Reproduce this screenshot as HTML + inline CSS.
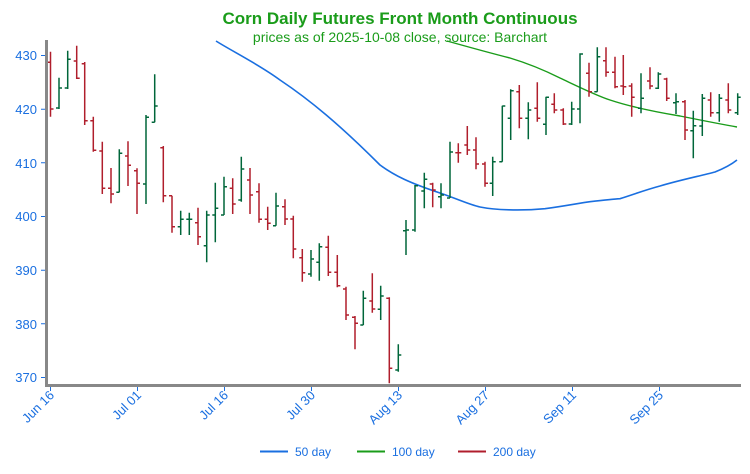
<!DOCTYPE html>
<html><head><meta charset="utf-8"><style>
body{margin:0;background:#fff;}
svg{display:block;font-family:"Liberation Sans",sans-serif;}
</style></head><body>
<svg width="750" height="474" viewBox="0 0 750 474" xmlns="http://www.w3.org/2000/svg">
<text x="400" y="24" text-anchor="middle" font-size="17" font-weight="bold" fill="#1a9c1a">Corn Daily Futures Front Month Continuous</text>
<text x="400" y="42" text-anchor="middle" font-size="14" fill="#1a9c1a">prices as of 2025-10-08 close, source: Barchart</text>
<g fill="#1a6fe0" font-size="13" text-anchor="end">
<text x="37" y="60">430</text><text x="37" y="114">420</text><text x="37" y="168">410</text>
<text x="37" y="221">400</text><text x="37" y="275">390</text><text x="37" y="329">380</text><text x="37" y="382">370</text>
</g>
<g stroke="#1a6fe0" stroke-width="1">
<path d="M41 55.5H45M41 109.2H45M41 162.8H45M41 216.5H45M41 270.2H45M41 323.8H45M41 377.5H45"/>
<path d="M50.5 386V391M137.5 386V391M224.5 386V391M311.5 386V391M398.5 386V391M485.5 386V391M572.5 386V391M659.5 386V391"/>
</g>
<g fill="#1a6fe0" font-size="13" text-anchor="end">
<text transform="translate(55,396) rotate(-45)">Jun 16</text>
<text transform="translate(142,396) rotate(-45)">Jul 01</text>
<text transform="translate(229,396) rotate(-45)">Jul 16</text>
<text transform="translate(316,396) rotate(-45)">Jul 30</text>
<text transform="translate(403,396) rotate(-45)">Aug 13</text>
<text transform="translate(490,396) rotate(-45)">Aug 27</text>
<text transform="translate(577,396) rotate(-45)">Sep 11</text>
<text transform="translate(664,396) rotate(-45)">Sep 25</text>
</g>
<path d="M216 41 C230 50 260 65 280 80 C310 100 340 125 380 165 C395 176 410 183 440 193 C455 198 470 205 480 207 C495 210 520 211 545 208.7 C565 206 580 203 590 201.7 C605 200 615 199 620 198.7 C635 194 645 190 660 186 C680 180 700 176 715 172 C725 168 732 164 737 160" fill="none" stroke="#1a6fe0" stroke-width="1.6"/>
<path d="M447 41 C465 46 490 53 510 58 C530 64 550 73 560 78 C575 85 595 95 610 100 C625 105 650 111 680 116 C700 120 720 124 737 127" fill="none" stroke="#1a9c1a" stroke-width="1.4"/>
<path fill="none" stroke="#b01e2c" stroke-width="1.5" d="
M50.5 51.7V116.7M47.5 62.3H50.5M50.5 109H53.5
M76.7 45.7V79M73.7 61H76.7M76.7 78.3H79.7
M84.7 62V125M81.7 63.7H84.7M84.7 120.7H87.7
M93.3 116.7V151.7M90.3 120.7H93.3M93.3 150.3H96.3
M102.3 141.7V194M99.3 151H102.3M102.3 188.3H105.3
M111 168V203.3M108 188.3H111M111 194H114
M128 141.3V186M125 156H128M128 165.3H131
M137 168.3V214M134 170.7H137M137 183.3H140
M163.3 146V202.3M160.3 147.7H163.3M163.3 195.7H166.3
M172 195.7V232.7M169 195.7H172M172 226.7H175
M198 207.7V245M195 222.7H198M198 236.7H201
M232.7 178.3V214M229.7 188.3H232.7M232.7 204H235.7
M250 168V214M247 180H250M250 195H253
M259 183.3V222.7M256 191.7H259M259 219.3H262
M267.7 206.7V230M264.7 219.3H267.7M267.7 223.3H270.7
M285 199.3V225M282 206.7H285M285 219H288
M293.3 215.7V258.3M290.3 219H293.3M293.3 249H296.3
M302.3 249V281.7M299.3 257.7H302.3M302.3 272.7H305.3
M328.3 235.7V276M325.3 247.3H328.3M328.3 272.3H331.3
M337.3 255V287.3M334.3 272.3H337.3M337.3 285.7H340.3
M346 286.7V320M343 289H346M346 315H349
M355 316V349.3M352 317.3H355M355 323.3H358
M372.3 273.3V312.7M369.3 301H372.3M372.3 309H375.3
M389.3 297.3V383.3M386.3 298.3H389.3M389.3 368.3H392.3
M432.7 182.7V207.3M429.7 184H432.7M432.7 190H435.7
M458.3 143.3V162.7M455.3 152.7H458.3M458.3 152.7H461.3
M467.3 126V155M464.3 145H467.3M467.3 150H470.3
M476 137.3V169.3M473 150H476M476 164H479
M485 161.7V186.7M482 164H485M485 183.3H488
M519.3 85V128.3M516.3 91.7H519.3M519.3 118.3H522.3
M537.3 82.3V121.7M534.3 108.3H537.3M537.3 118.3H540.3
M554.3 93.3V113.3M551.3 104.3H554.3M554.3 110H557.3
M563.3 108.3V125M560.3 110H563.3M563.3 124H566.3
M589 62.7V96.7M586 73.3H589M589 91.7H592
M606 47.3V76.7M603 60.7H606M606 72.3H609
M615 56.7V88.3M612 72.3H615M615 86.7H618
M623.3 55V95M620.3 86H623.3M623.3 86.7H626.3
M631.7 83.3V116.7M628.7 86H631.7M631.7 97.3H634.7
M650 67.3V89.3M647 81H650M650 86H653
M666.7 77.7V101M663.7 79H666.7M666.7 98.3H669.7
M685 100V140M682 101.7H685M685 130H688
M710.7 92.3V116.7M707.7 100H710.7M710.7 112.7H713.7
M728.3 83.3V113.3M725.3 100H728.3M728.3 110H731.3"/>
<path fill="none" stroke="#00663a" stroke-width="1.5" d="
M59 77.7V109M56 108H59M59 88H62
M67.7 50.7V89M64.7 88H67.7M67.7 59.3H70.7
M119.3 149.3V192.3M116.3 192.3H119.3M119.3 153.3H122.3
M146 115V204M143 184H146M146 117.3H149
M154.7 74.3V122.3M151.7 122.3H154.7M154.7 106H157.7
M180.7 210.7V235M177.7 226.7H180.7M180.7 219.3H183.7
M189.3 212.7V235M186.3 219.3H189.3M189.3 219.3H192.3
M206.7 210.7V262.3M203.7 245.7H206.7M206.7 215H209.7
M215.3 182.7V242.3M212.3 215H215.3M215.3 208.3H218.3
M224 176.7V215M221 215H224M224 186.7H227
M241.3 156.7V201.7M238.3 200H241.3M241.3 169H244.3
M276 192.7V225.7M273 225.7H276M276 206H279
M311 250V276.7M308 274H311M311 259H314
M319.3 243.3V280.7M316.3 262.3H319.3M319.3 246.7H322.3
M363.3 290.7V325M360.3 325H363.3M363.3 298.3H366.3
M380.7 285.7V320M377.7 309.3H380.7M380.7 296H383.7
M398.3 344.3V371.7M395.3 370H398.3M398.3 355H401.3
M406 220V255M403 230.7H406M406 230H409
M415 185V231.7M412 230H415M415 185.7H418
M424.3 172.7V208.3M421.3 191H424.3M424.3 179.3H427.3
M441 183.3V208.3M438 196.7H441M441 195H444
M450 141.7V198M447 198H450M450 152H453
M492.7 156.7V196M489.7 183.3H492.7M492.7 161.7H495.7
M502.3 105.7V161.7M499.3 161.7H502.3M502.3 106H505.3
M510.7 89.3V140M507.7 118.3H510.7M510.7 90.7H513.7
M528.3 102.3V139.3M525.3 118.3H528.3M528.3 110H531.3
M546 96.7V135M543 124.3H546M546 97.3H549
M571.7 101.7V125M568.7 124H571.7M571.7 109H574.7
M580 53.3V123.3M577 109H580M580 54H583
M597.3 47.3V91.7M594.3 91.7H597.3M597.3 56.7H600.3
M641 73.3V113.3M638 108.3H641M641 98.3H644
M658.3 72.3V89M655.3 88.3H658.3M658.3 74H661.3
M676 93.3V114M673 102.7H676M676 101.7H679
M693.3 110.7V158.3M690.3 130.7H693.3M693.3 125.7H696.3
M702.3 94V136M699.3 126H702.3M702.3 98.3H705.3
M719.3 94V121.7M716.3 112.7H719.3M719.3 98.3H722.3
M737.7 93.3V115M734.7 112.7H737.7M737.7 97.3H740.7"/>
<path d="M46.5 40V385.5H741" fill="none" stroke="#888" stroke-width="3"/>
<g font-size="12" fill="#1a6fe0">
<path d="M260 451.5H288" stroke="#1a6fe0" stroke-width="2"/><text x="295" y="456">50 day</text>
<path d="M357 451.5H385" stroke="#1a9c1a" stroke-width="2"/><text x="392" y="456">100 day</text>
<path d="M458 451.5H486" stroke="#b01e2c" stroke-width="2"/><text x="493" y="456">200 day</text>
</g>
</svg>
</body></html>
